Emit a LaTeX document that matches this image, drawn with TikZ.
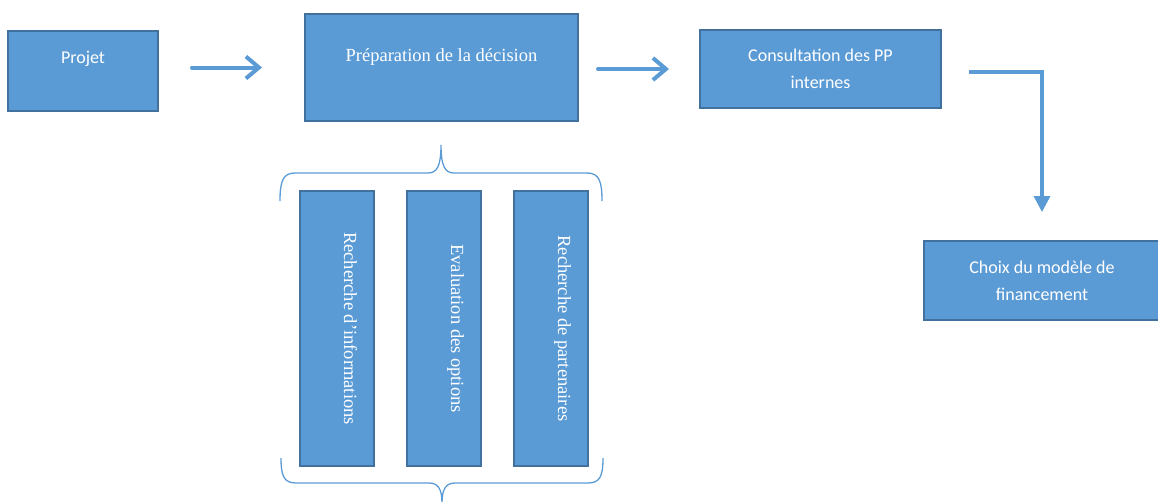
\documentclass[tikz,border=0pt]{standalone}
\usepackage{fontspec}
\setmainfont{Liberation Serif}
\newfontfamily\calibri{Carlito}
\usetikzlibrary{positioning, arrows.meta}
\definecolor{boxblue}{HTML}{5B9BD5}
\definecolor{boxedge}{HTML}{41719C}

\begin{document}
\begin{tikzpicture}[
    x=1pt, y=-1pt,
    block/.style = {rectangle, draw=boxedge, fill=boxblue, line width=2pt, text=white, align=center, inner sep=0pt},
    sanstext/.style = {font=\calibri\fontsize{18}{27}\selectfont},
    seriftext/.style = {font=\fontsize{18.5}{22}\selectfont},
    toptext/.style = {text height=14pt, text depth=#1},
    vblock/.style = {block, seriftext, rotate=-90, minimum width=275pt, minimum height=74pt, toptext=28pt},
    arrow/.style = {draw=boxblue, line width=4pt, line cap=round, -{Straight Barb[length=13pt, width=22pt]}},
    elbow/.style = {draw=boxblue, line width=3.5pt, -{Triangle[length=16pt, width=16pt]}},
    brace/.style = {draw=boxblue, line width=1.3pt}
]
\useasboundingbox (0,0) rectangle (1158,501);

% Top row of boxes
\node[block, sanstext, minimum width=150pt, minimum height=80pt, toptext=30pt] (projet) at (83,71) {Projet};
\node[block, seriftext, minimum width=273pt, minimum height=107pt, toptext=27pt] (prep) at (441.5,67.5) {Préparation de la décision};
\node[block, sanstext, minimum width=241pt, minimum height=78pt] (consult) at (820.5,69) {Consultation des PP\\internes};
\node[block, sanstext, minimum width=236pt, minimum height=79pt] (choix) at (1042,280.5) {Choix du modèle de\\financement};

% Vertical boxes below the decision
\node[vblock] (info) at (337,328.5) {Recherche d’informations};
\node[vblock] (options) at (444,328.5) {Evaluation des options};
\node[vblock] (partners) at (551,328.5) {Recherche de partenaires};

% Arrows
\draw[arrow, shorten <=33pt, shorten >=42pt] (projet.east |- prep.west) -- (prep.west);
\draw[arrow, shorten <=19pt, shorten >=30pt] (prep.east |- consult.west) -- (consult.west);
\draw[elbow, shorten <=27pt, shorten >=28pt] ([yshift=-3pt]consult.east) -| (choix.north);

% Braces
\draw[brace] (280,201) .. controls (280,181) and (283,173) .. (295,173) -- (428,173)
    .. controls (437,173) and (441,166) .. (441,145)
    .. controls (441,166) and (445,173) .. (454,173) -- (587,173)
    .. controls (599,173) and (602,181) .. (602,201);
\draw[brace] (281,458) .. controls (281,476) and (284,483) .. (296,483) -- (429,483)
    .. controls (438,483) and (442,489) .. (442,503)
    .. controls (442,489) and (446,483) .. (455,483) -- (588,483)
    .. controls (600,483) and (603,476) .. (603,458);

\end{tikzpicture}
\end{document}
